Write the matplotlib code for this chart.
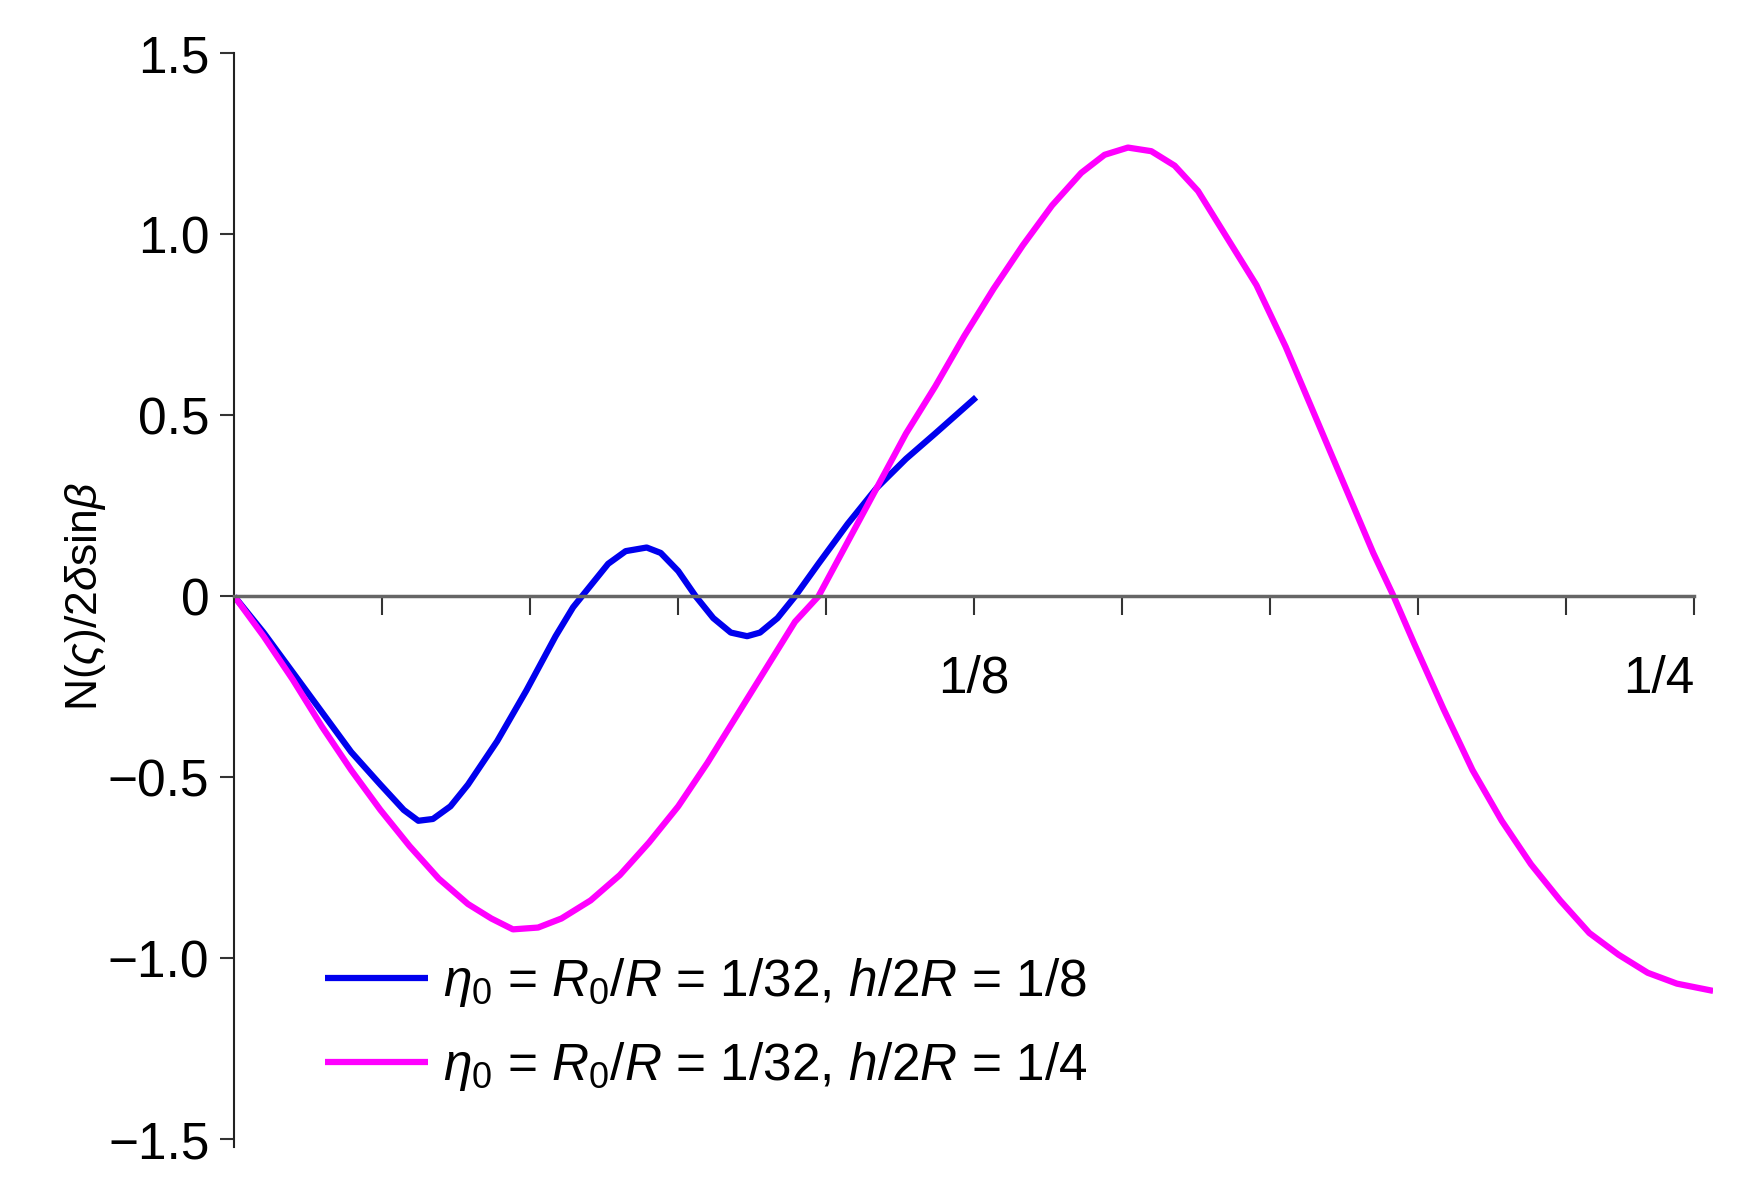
import numpy as np
import matplotlib.pyplot as plt

plt.rcParams['font.family'] = ['Liberation Sans', 'DejaVu Sans']
plt.rcParams['mathtext.fontset'] = 'custom'
plt.rcParams['mathtext.it'] = 'Liberation Sans:italic'
plt.rcParams['mathtext.rm'] = 'Liberation Sans'

# values
blue_x = [0, 0.005, 0.01, 0.015, 0.02, 0.025, 0.029, 0.0315, 0.034, 0.037, 0.04,
          0.045, 0.05, 0.055, 0.058, 0.061, 0.064, 0.067, 0.0706, 0.073, 0.076,
          0.079, 0.082, 0.085, 0.0878, 0.09, 0.093, 0.096, 0.1, 0.105, 0.11,
          0.115, 0.12, 0.127]
blue_y = [0, -0.1, -0.21, -0.32, -0.43, -0.52, -0.59, -0.62, -0.615, -0.58, -0.52,
          -0.40, -0.26, -0.11, -0.03, 0.03, 0.09, 0.125, 0.135, 0.12, 0.07,
          0.0, -0.06, -0.10, -0.11, -0.1, -0.06, 0.0, 0.09, 0.2, 0.3,
          0.38, 0.45, 0.55]

pink_x = [0, 0.005, 0.01, 0.015, 0.02, 0.025, 0.03, 0.035, 0.04, 0.044, 0.0477,
          0.052, 0.056, 0.061, 0.066, 0.071, 0.076, 0.081, 0.086, 0.091, 0.096,
          0.1, 0.105, 0.11, 0.115, 0.12, 0.125, 0.13, 0.135, 0.14, 0.145, 0.149,
          0.153, 0.157, 0.161, 0.165, 0.17, 0.175, 0.18, 0.185, 0.19, 0.195,
          0.1985, 0.202, 0.207, 0.212, 0.217, 0.222, 0.227, 0.232, 0.237, 0.242,
          0.247, 0.2532]
pink_y = [0, -0.11, -0.23, -0.36, -0.48, -0.59, -0.69, -0.78, -0.85, -0.89, -0.92,
          -0.915, -0.89, -0.84, -0.77, -0.68, -0.58, -0.46, -0.33, -0.2, -0.07,
          0.0, 0.15, 0.3, 0.45, 0.58, 0.72, 0.85, 0.97, 1.08, 1.17, 1.22,
          1.24, 1.23, 1.19, 1.12, 0.99, 0.86, 0.69, 0.5, 0.31, 0.12,
          0.0, -0.13, -0.31, -0.48, -0.62, -0.74, -0.84, -0.93, -0.99, -1.04,
          -1.07, -1.09]

y_ticks = [-1.5, -1.0, -0.5, 0, 0.5, 1.0, 1.5]
y_labels = ['\u22121.5', '\u22121.0', '\u22120.5', '0', '0.5', '1.0', '1.5']
x_ticks = [0.02533 * i for i in range(1, 10)] + [0.25]
x_labels = ['', '', '', '', '1/8', '', '', '', '', '1/4']

fig = plt.figure(figsize=(17.49, 11.88), dpi=100)
ax = fig.add_axes([0.134, 0.041, 0.8455, 0.914])

ax.plot(blue_x, blue_y, color='#0000ee', lw=4.5, solid_capstyle='butt',
        label=r'$\eta_0$ = $R_0$/$R$ = 1/32, $h$/2$R$ = 1/8')
ax.plot(pink_x, pink_y, color='#ff00ff', lw=4.5, solid_capstyle='butt',
        label=r'$\eta_0$ = $R_0$/$R$ = 1/32, $h$/2$R$ = 1/4')

ax.set_xlim(0, 0.2532)
ax.set_ylim(-1.5, 1.5)
for s in ['top', 'right']:
    ax.spines[s].set_visible(False)
ax.spines['bottom'].set_position(('data', 0))
ax.spines['bottom'].set_color('#666666')
ax.spines['bottom'].set_linewidth(2.5)
ax.spines['bottom'].set_bounds(0, 0.25)
ax.spines['left'].set_color('#222222')
ax.spines['left'].set_linewidth(1.5)
ax.spines['left'].set_bounds(-1.52, 1.5)

ax.set_yticks(y_ticks)
ax.set_yticklabels(y_labels, fontsize=37)
ax.set_xticks(x_ticks)
ax.set_xticklabels(x_labels, fontsize=37)
ax.tick_params(axis='x', direction='out', length=14, width=1.5, color='#333333', pad=28)
ax.tick_params(axis='y', direction='out', length=10, width=1.5, color='#333333', pad=8)
xl = ax.get_xticklabels()
xl[4].set_horizontalalignment('center')
xl[9].set_horizontalalignment('right')

ax.set_ylabel(r'N($\varsigma$)/2$\delta$sin$\beta$', fontsize=32, labelpad=0)

ax.legend(loc='lower left', bbox_to_anchor=(0.03, 0.0), frameon=False,
          fontsize=37, handlelength=2.0, handletextpad=0.3, labelspacing=0.6)

fig.savefig('out.png', dpi=100)
